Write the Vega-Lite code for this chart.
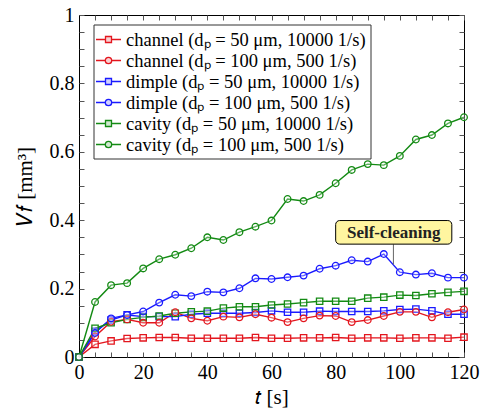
{
  "$schema": "https://vega.github.io/schema/vega-lite/v6.json",
  "width": 385,
  "height": 342,
  "autosize": {"type": "none"},
  "padding": {"left": 79, "top": 15, "right": 18, "bottom": 54},
  "config": {
    "view": {"stroke": "black", "strokeWidth": 1},
    "font": "Liberation Serif",
    "axis": {
      "grid": false,
      "labelFont": "Liberation Serif",
      "titleFont": "Liberation Serif",
      "labelFontSize": 20,
      "titleFontSize": 21,
      "titleFontWeight": "normal",
      "labelColor": "black",
      "titleColor": "black",
      "domainColor": "black",
      "tickColor": "#555",
      "labelFlush": false
    }
  },
  "data": {
    "values": [
      {"s":"a","t":0,"v":0},{"s":"a","t":5,"v":0.037},{"s":"a","t":10,"v":0.047},{"s":"a","t":15,"v":0.054},{"s":"a","t":20,"v":0.056},{"s":"a","t":25,"v":0.057},{"s":"a","t":30,"v":0.057},{"s":"a","t":35,"v":0.055},{"s":"a","t":40,"v":0.055},{"s":"a","t":45,"v":0.055},{"s":"a","t":50,"v":0.055},{"s":"a","t":55,"v":0.057},{"s":"a","t":60,"v":0.055},{"s":"a","t":65,"v":0.055},{"s":"a","t":70,"v":0.056},{"s":"a","t":75,"v":0.056},{"s":"a","t":80,"v":0.057},{"s":"a","t":85,"v":0.055},{"s":"a","t":90,"v":0.056},{"s":"a","t":95,"v":0.056},{"s":"a","t":100,"v":0.055},{"s":"a","t":105,"v":0.056},{"s":"a","t":110,"v":0.056},{"s":"a","t":115,"v":0.055},{"s":"a","t":120,"v":0.058},
      {"s":"b","t":0,"v":0},{"s":"b","t":5,"v":0.06},{"s":"b","t":10,"v":0.103},{"s":"b","t":15,"v":0.11},{"s":"b","t":20,"v":0.1},{"s":"b","t":25,"v":0.1},{"s":"b","t":30,"v":0.131},{"s":"b","t":35,"v":0.113},{"s":"b","t":40,"v":0.106},{"s":"b","t":45,"v":0.118},{"s":"b","t":50,"v":0.116},{"s":"b","t":55,"v":0.125},{"s":"b","t":60,"v":0.115},{"s":"b","t":65,"v":0.102},{"s":"b","t":70,"v":0.113},{"s":"b","t":75,"v":0.121},{"s":"b","t":80,"v":0.12},{"s":"b","t":85,"v":0.102},{"s":"b","t":90,"v":0.108},{"s":"b","t":95,"v":0.12},{"s":"b","t":100,"v":0.132},{"s":"b","t":105,"v":0.132},{"s":"b","t":110,"v":0.116},{"s":"b","t":115,"v":0.131},{"s":"b","t":120,"v":0.139},
      {"s":"c","t":0,"v":0},{"s":"c","t":5,"v":0.075},{"s":"c","t":10,"v":0.108},{"s":"c","t":15,"v":0.123},{"s":"c","t":20,"v":0.118},{"s":"c","t":25,"v":0.118},{"s":"c","t":30,"v":0.118},{"s":"c","t":35,"v":0.125},{"s":"c","t":40,"v":0.128},{"s":"c","t":45,"v":0.128},{"s":"c","t":50,"v":0.128},{"s":"c","t":55,"v":0.13},{"s":"c","t":60,"v":0.135},{"s":"c","t":65,"v":0.131},{"s":"c","t":70,"v":0.131},{"s":"c","t":75,"v":0.134},{"s":"c","t":80,"v":0.133},{"s":"c","t":85,"v":0.133},{"s":"c","t":90,"v":0.133},{"s":"c","t":95,"v":0.135},{"s":"c","t":100,"v":0.139},{"s":"c","t":105,"v":0.14},{"s":"c","t":110,"v":0.135},{"s":"c","t":115,"v":0.125},{"s":"c","t":120,"v":0.125},
      {"s":"d","t":0,"v":0},{"s":"d","t":5,"v":0.07},{"s":"d","t":10,"v":0.113},{"s":"d","t":15,"v":0.123},{"s":"d","t":20,"v":0.133},{"s":"d","t":25,"v":0.159},{"s":"d","t":30,"v":0.182},{"s":"d","t":35,"v":0.178},{"s":"d","t":40,"v":0.191},{"s":"d","t":45,"v":0.189},{"s":"d","t":50,"v":0.201},{"s":"d","t":55,"v":0.23},{"s":"d","t":60,"v":0.228},{"s":"d","t":65,"v":0.233},{"s":"d","t":70,"v":0.238},{"s":"d","t":75,"v":0.258},{"s":"d","t":80,"v":0.267},{"s":"d","t":85,"v":0.283},{"s":"d","t":90,"v":0.279},{"s":"d","t":95,"v":0.301},{"s":"d","t":100,"v":0.248},{"s":"d","t":105,"v":0.241},{"s":"d","t":110,"v":0.245},{"s":"d","t":115,"v":0.232},{"s":"d","t":120,"v":0.232},
      {"s":"e","t":0,"v":0},{"s":"e","t":5,"v":0.084},{"s":"e","t":10,"v":0.1},{"s":"e","t":15,"v":0.11},{"s":"e","t":20,"v":0.116},{"s":"e","t":25,"v":0.12},{"s":"e","t":30,"v":0.128},{"s":"e","t":35,"v":0.132},{"s":"e","t":40,"v":0.134},{"s":"e","t":45,"v":0.143},{"s":"e","t":50,"v":0.147},{"s":"e","t":55,"v":0.147},{"s":"e","t":60,"v":0.152},{"s":"e","t":65,"v":0.155},{"s":"e","t":70,"v":0.159},{"s":"e","t":75,"v":0.163},{"s":"e","t":80,"v":0.163},{"s":"e","t":85,"v":0.163},{"s":"e","t":90,"v":0.172},{"s":"e","t":95,"v":0.175},{"s":"e","t":100,"v":0.181},{"s":"e","t":105,"v":0.18},{"s":"e","t":110,"v":0.185},{"s":"e","t":115,"v":0.189},{"s":"e","t":120,"v":0.192},
      {"s":"f","t":0,"v":0},{"s":"f","t":5,"v":0.161},{"s":"f","t":10,"v":0.21},{"s":"f","t":15,"v":0.216},{"s":"f","t":20,"v":0.259},{"s":"f","t":25,"v":0.286},{"s":"f","t":30,"v":0.299},{"s":"f","t":35,"v":0.318},{"s":"f","t":40,"v":0.35},{"s":"f","t":45,"v":0.342},{"s":"f","t":50,"v":0.365},{"s":"f","t":55,"v":0.381},{"s":"f","t":60,"v":0.399},{"s":"f","t":65,"v":0.462},{"s":"f","t":70,"v":0.456},{"s":"f","t":75,"v":0.474},{"s":"f","t":80,"v":0.508},{"s":"f","t":85,"v":0.547},{"s":"f","t":90,"v":0.564},{"s":"f","t":95,"v":0.561},{"s":"f","t":100,"v":0.588},{"s":"f","t":105,"v":0.636},{"s":"f","t":110,"v":0.649},{"s":"f","t":115,"v":0.683},{"s":"f","t":120,"v":0.701}
    ]
  },
  "layer": [
    {
      "encoding": {
        "x": {
          "field": "t", "type": "quantitative",
          "scale": {"domain": [0, 120], "nice": false},
          "axis": {
            "values": [0,20,40,60,80,100,120],
            "ticks": false, "labelPadding": 5,
            "title": "𝑡 [s]", "titlePadding": 4
          }
        },
        "y": {
          "field": "v", "type": "quantitative",
          "scale": {"domain": [0, 1], "nice": false},
          "axis": {
            "values": [0,0.2,0.4,0.6,0.8,1],
            "format": "~g",
            "ticks": false, "labelPadding": 5,
            "title": "𝑉𝑓 [mm³]", "titlePadding": 14
          }
        }
      },
      "layer": [
        {
          "mark": {"type": "line", "strokeWidth": 1.4},
          "encoding": {
            "color": {
              "field": "s", "type": "nominal",
              "scale": {"domain": ["a","b","c","d","e","f"], "range": ["#e3161e","#e3161e","#1a1aff","#1a1aff","#138a13","#138a13"]},
              "legend": {
                "orient": "none", "legendX": 14.5, "legendY": 9.5,
                "title": null,
                "labelFont": "Liberation Serif", "labelFontSize": 18.5, "labelColor": "black", "labelLimit": 400,
                "labelExpr": "datum.value=='a'?'channel (dₚ = 50 μm, 10000 1/s)':datum.value=='b'?'channel (dₚ = 100 μm, 500 1/s)':datum.value=='c'?'dimple (dₚ = 50 μm, 10000 1/s)':datum.value=='d'?'dimple (dₚ = 100 μm, 500 1/s)':datum.value=='e'?'cavity (dₚ = 50 μm, 10000 1/s)':'cavity (dₚ = 100 μm, 500 1/s)'",
                "symbolSize": 400, "symbolStrokeWidth": 1.3,
                "labelOffset": 6.5, "rowPadding": 0, "padding": 4,
                "strokeColor": "#333", "fillColor": "white",
                "encode": {
                  "symbols": {
                    "update": {
                      "shape": {"signal": "indexof(['a','c','e'], datum.value) >= 0 ? 'M-1.25,0H-0.3M0.3,0H1.25M-0.3,-0.3H0.3V0.3H-0.3Z' : 'M-1.25,0H-0.32M0.32,0H1.25M-0.32,0A0.32,0.32,0,1,0,0.32,0A0.32,0.32,0,1,0,-0.32,0Z'"},
                      "stroke": {"scale": "color", "field": "value"},
                      "fill": {"scale": "color", "field": "value"},
                      "fillOpacity": {"value": 0.2},
                      "strokeWidth": {"value": 1.3}
                    }
                  }
                }
              }
            }
          }
        },
        {
          "transform": [{"filter": "indexof(['a','c','e'], datum.s) >= 0"}],
          "mark": {"type": "point", "shape": "square", "filled": false, "size": 40, "strokeWidth": 1.3, "fill": "#ffffff", "fillOpacity": 0.3, "opacity": 1},
          "encoding": {
            "color": {"field": "s", "type": "nominal"}
          }
        },
        {
          "transform": [{"filter": "indexof(['b','d','f'], datum.s) >= 0"}],
          "mark": {"type": "point", "shape": "circle", "filled": false, "size": 44, "strokeWidth": 1.3, "fill": "#ffffff", "fillOpacity": 0.3, "opacity": 1},
          "encoding": {
            "color": {"field": "s", "type": "nominal"}
          }
        },
        {
          "data": {"values": [{"t": 98, "v": 0.27, "v2": 0.33}]},
          "mark": {"type": "rule", "color": "#666", "strokeWidth": 1},
          "encoding": {"y2": {"field": "v2"}}
        },
        {
          "data": {"values": [{"t": 80, "t2": 116.2, "v": 0.33, "v2": 0.399}]},
          "mark": {"type": "rect", "fill": "#fff5a0", "stroke": "black", "strokeWidth": 1, "cornerRadius": 4},
          "encoding": {"x2": {"field": "t2"}, "y2": {"field": "v2"}}
        },
        {
          "data": {"values": [{"t": 98.1, "v": 0.364, "label": "Self-cleaning"}]},
          "mark": {"type": "text", "font": "Liberation Serif", "fontWeight": "bold", "fontSize": 17, "color": "#222", "align": "center", "baseline": "middle"},
          "encoding": {"text": {"field": "label"}}
        }
      ]
    },
    {
      "mark": {"type": "point", "opacity": 0},
      "encoding": {
        "x": {
          "field": "t", "type": "quantitative",
          "scale": {"domain": [0, 120], "nice": false},
          "axis": {"orient": "bottom", "offset": -5, "tickSize": 5, "domain": false, "values": [0,5,10,15,20,25,30,35,40,45,50,55,60,65,70,75,80,85,90,95,100,105,110,115,120], "labels": false, "title": null}
        },
        "y": {
          "field": "v", "type": "quantitative",
          "scale": {"domain": [0, 1], "nice": false},
          "axis": {"orient": "left", "offset": -5, "tickSize": 5, "domain": false, "values": [0,0.05,0.1,0.15,0.2,0.25,0.3,0.35,0.4,0.45,0.5,0.55,0.6,0.65,0.7,0.75,0.8,0.85,0.9,0.95,1], "labels": false, "title": null}
        }
      }
    },
    {
      "mark": {"type": "point", "opacity": 0},
      "encoding": {
        "x": {
          "field": "t", "type": "quantitative",
          "scale": {"domain": [0, 120], "nice": false},
          "axis": {"orient": "top", "offset": -5, "tickSize": 5, "domain": false, "values": [0,5,10,15,20,25,30,35,40,45,50,55,60,65,70,75,80,85,90,95,100,105,110,115,120], "labels": false, "title": null}
        },
        "y": {
          "field": "v", "type": "quantitative",
          "scale": {"domain": [0, 1], "nice": false},
          "axis": {"orient": "right", "offset": -5, "tickSize": 5, "domain": false, "values": [0,0.05,0.1,0.15,0.2,0.25,0.3,0.35,0.4,0.45,0.5,0.55,0.6,0.65,0.7,0.75,0.8,0.85,0.9,0.95,1], "labels": false, "title": null}
        }
      }
    }
  ],
  "resolve": {"scale": {"x": "independent", "y": "independent"}}
}
